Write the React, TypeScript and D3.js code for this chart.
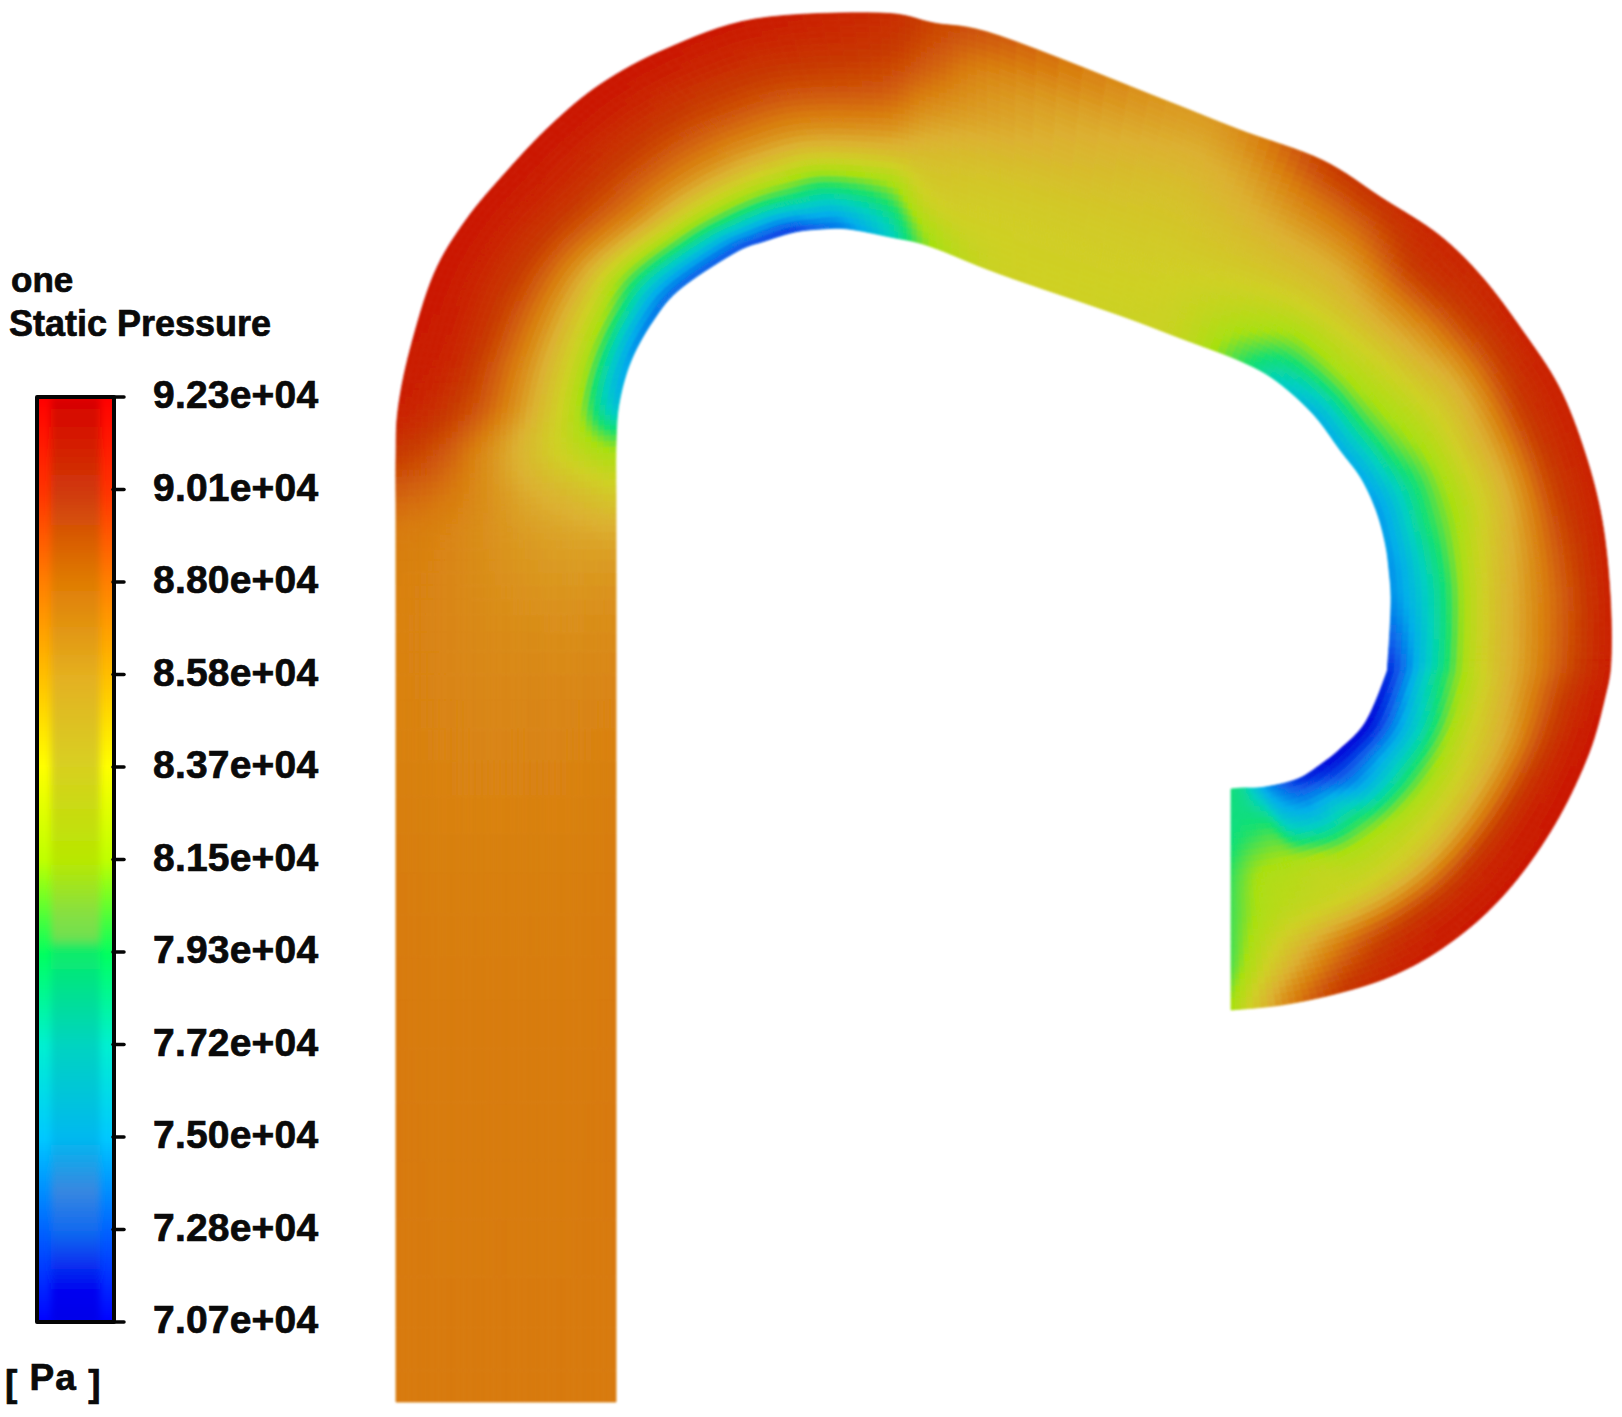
import React from "react"
import * as d3 from "d3"

// legend
const tickLabels = ["9.23e+04", "9.01e+04", "8.80e+04", "8.58e+04", "8.37e+04", "8.15e+04", "7.93e+04", "7.72e+04", "7.50e+04", "7.28e+04", "7.07e+04"]
const tickValues = [9.23, 9.01, 8.8, 8.58, 8.37, 8.15, 7.93, 7.72, 7.5, 7.28, 7.07]
const fieldColors = ["#cc0800", "#c83a04", "#d87a0c", "#dcb030", "#cfd024", "#a8e010", "#14e070", "#00d0c0", "#00aeea", "#0a60ea", "#0000d8"]
const barEdge = ["#ff0000", "#ff3400", "#ff7f00", "#ffbf00", "#ffff00", "#bfff00", "#00ff60", "#00f0d0", "#00c8ff", "#0060ff", "#0000ff"]
// middle of the colour bar has a few washed-out patches, so it gets its own stops
const barCentreValues = [9.23, 9.01, 8.8, 8.58, 8.37, 8.15, 8.03, 7.97, 7.94, 7.72, 7.5, 7.38, 7.28, 7.14, 7.07]
const barCentre = ["#d80000", "#d03a08", "#e07c04", "#e4b020", "#d8d020", "#b8e800", "#88e040", "#70e050", "#08ec68", "#00d4c0", "#00b8f0", "#3888e0", "#1068f0", "#0000f0", "#0000e8"]

// duct walls in model units, origin at the inlet's outer corner, y up
const outerWall = [
  [0, 0], [0, 402], [0, 702], [0, 842], [0, 892], [0, 945], [2, 992], [14, 1052], [38, 1128], [70, 1182],
  [111, 1231], [155, 1277], [205, 1318], [270, 1353], [359, 1383], [484, 1389], [538, 1379], [604, 1366], [771, 1301], [844, 1272],
  [926, 1242], [986, 1204], [1043, 1167], [1086, 1125], [1126, 1072], [1163, 1015], [1189, 949], [1206, 882], [1214, 809], [1215, 742], [1209, 705],
  [1193, 649], [1163, 585], [1126, 529], [1086, 485], [1039, 449], [993, 425], [943, 409], [886, 397], [835, 392],
]
const innerWall = [
  [220, 0], [220, 402], [220, 702], [220, 842], [220, 902], [220, 956], [223, 998], [235, 1041], [257, 1081], [284, 1113],
  [340, 1150], [369, 1161], [399, 1170], [426, 1173], [452, 1173], [494, 1165], [533, 1156], [604, 1128], [723, 1087], [784, 1064],
  [842, 1042], [879, 1022], [917, 988], [944, 952], [965, 924], [980, 892], [989, 860], [993, 832], [995, 799], [992, 742], [989, 725],
  [969, 679], [943, 652], [924, 637], [906, 625], [889, 619], [869, 615], [859, 614], [847, 614], [835, 613],
]
// pressure (x1e4 Pa) at six points from outer wall to inner wall, one row per wall station
const pressure = [
  [8.8, 8.8, 8.8, 8.8, 8.8, 8.8],
  [8.8, 8.79, 8.79, 8.79, 8.79, 8.8],
  [8.77, 8.76, 8.75, 8.75, 8.75, 8.76],
  [8.78, 8.76, 8.72, 8.68, 8.66, 8.66],
  [8.84, 8.8, 8.72, 8.62, 8.54, 8.45],
  [9.0, 8.92, 8.74, 8.52, 8.3, 8.1],
  [9.12, 9.04, 8.88, 8.6, 8.22, 7.6],
  [9.15, 9.1, 8.92, 8.62, 8.18, 7.45],
  [9.18, 9.1, 8.95, 8.62, 8.1, 7.35],
  [9.18, 9.1, 8.95, 8.6, 7.98, 7.3],
  [9.17, 9.1, 8.95, 8.65, 8.0, 7.25],
  [9.18, 9.09, 8.94, 8.63, 8.0, 7.22],
  [9.18, 9.08, 8.92, 8.62, 8.0, 7.2],
  [9.17, 9.06, 8.9, 8.58, 7.97, 7.3],
  [9.15, 9.05, 8.88, 8.56, 7.93, 7.4],
  [9.08, 9.0, 8.85, 8.55, 8.05, 7.7],
  [8.98, 8.88, 8.7, 8.5, 8.35, 8.12],
  [8.9, 8.72, 8.6, 8.45, 8.38, 8.35],
  [8.68, 8.58, 8.48, 8.42, 8.38, 8.35],
  [8.72, 8.6, 8.5, 8.42, 8.34, 8.3],
  [8.98, 8.78, 8.58, 8.42, 8.22, 8.0],
  [9.05, 8.85, 8.6, 8.4, 8.1, 7.75],
  [9.1, 9.0, 8.7, 8.4, 8.1, 7.55],
  [9.1, 8.98, 8.65, 8.35, 8.05, 7.52],
  [9.12, 8.95, 8.58, 8.3, 8.0, 7.5],
  [9.12, 9.0, 8.62, 8.28, 7.9, 7.45],
  [9.12, 8.97, 8.58, 8.25, 7.9, 7.45],
  [9.12, 8.95, 8.62, 8.3, 7.85, 7.42],
  [9.12, 8.92, 8.65, 8.33, 7.8, 7.4],
  [9.13, 8.94, 8.65, 8.32, 7.75, 7.2],
  [9.15, 8.98, 8.65, 8.28, 7.78, 7.15],
  [9.17, 9.0, 8.58, 8.22, 7.62, 7.08],
  [9.17, 9.02, 8.52, 8.12, 7.55, 7.07],
  [9.16, 9.02, 8.48, 8.12, 7.5, 7.1],
  [9.16, 9.0, 8.45, 8.15, 7.65, 7.15],
  [9.15, 8.98, 8.42, 8.15, 7.6, 7.25],
  [9.1, 8.9, 8.38, 8.22, 7.7, 7.45],
  [9.0, 8.72, 8.33, 8.2, 7.95, 7.62],
  [8.7, 8.42, 8.22, 8.15, 7.95, 7.82],
  [8.15, 8.02, 8.0, 7.98, 7.9, 7.9],
]

// Catmull-Rom through a list of numbers
function spline(arr: number[], u: number) {
  const n = arr.length - 1
  const i = Math.min(Math.floor(u), n - 1)
  const t = u - i
  const p0 = arr[Math.max(i - 1, 0)], p1 = arr[i], p2 = arr[i + 1], p3 = arr[Math.min(i + 2, n)]
  return 0.5 * (2 * p1 + (p2 - p0) * t + (2 * p0 - 5 * p1 + 4 * p2 - p3) * t * t + (3 * p1 - p0 - 3 * p2 + p3) * t * t * t)
}

const xScale = d3.scaleLinear().domain([0, 1213]).range([396, 1609])
const yScale = d3.scaleLinear().domain([0, 1391]).range([1402, 11])
const fieldColor = d3.scaleLinear<string>().domain(tickValues).range(fieldColors).clamp(true)
const centreColor = d3.scaleLinear<string>().domain(barCentreValues).range(barCentre).clamp(true)
const edgeColor = d3.scaleLinear<string>().domain(tickValues).range(barEdge).clamp(true)

const barTop = 397, barBottom = 1322, barLeft = 38, barRight = 113
const tickY = d3.scalePoint<string>().domain(tickLabels).range([barTop, barBottom])
const barValue = d3.scaleLinear().domain([barTop, barBottom]).range([9.23, 7.07])

function buildCells() {
  const outerX = outerWall.map(d => d[0]), outerY = outerWall.map(d => d[1])
  const innerX = innerWall.map(d => d[0]), innerY = innerWall.map(d => d[1])
  const cols = d3.transpose(pressure) as number[][]
  const steps = 8, rows = 36
  const line = d3.line().curve(d3.curveLinearClosed)
  const point = (u: number, t: number): [number, number] => {
    const ox = spline(outerX, u), oy = spline(outerY, u)
    const ix = spline(innerX, u), iy = spline(innerY, u)
    return [xScale(ox + (ix - ox) * t), yScale(oy + (iy - oy) * t)]
  }
  const value = (u: number, t: number) => {
    const along = cols.map(c => spline(c, u))
    return spline(along, t * (along.length - 1))
  }
  const cells: { d: string; fill: string }[] = []
  const total = (pressure.length - 1) * steps
  for (let a = 0; a < total; a++) {
    const u0 = a / steps, u1 = (a + 1) / steps
    for (let b = 0; b < rows; b++) {
      const t0 = b / rows, t1 = (b + 1) / rows
      cells.push({
        d: line([point(u0, t0), point(u1, t0), point(u1, t1), point(u0, t1)]) as string,
        fill: fieldColor(value((u0 + u1) / 2, (t0 + t1) / 2)),
      })
    }
  }
  return cells
}

export default function App() {
  const cells = React.useMemo(buildCells, [])
  const barRows = d3.range(barTop, barBottom, 2)
  const font = "'Liberation Sans', Arial, sans-serif"
  return (
    <svg width={1622} height={1417} style={{ position: "absolute", left: 0, top: 0, display: "block", background: "#fff" }}>
      <defs>
        <filter id="soft" x="-20%" y="-5%" width="140%" height="110%">
          <feGaussianBlur stdDeviation="3.5" />
        </filter>
        <filter id="field" x="-2%" y="-2%" width="104%" height="104%">
          <feGaussianBlur stdDeviation="1.3" />
        </filter>
        <clipPath id="barClip">
          <rect x={barLeft} y={barTop} width={barRight - barLeft} height={barBottom - barTop} />
        </clipPath>
      </defs>

      {/* contour field */}
      <g filter="url(#field)">
        {cells.map((c, i) => (
          <path key={i} d={c.d} fill={c.fill} stroke={c.fill} strokeWidth={0.8} />
        ))}
      </g>

      {/* colour bar: saturated at the rim, muted down the middle */}
      <g clipPath="url(#barClip)">
        {barRows.map(y => (
          <rect key={y} x={barLeft} y={y} width={barRight - barLeft} height={2.5} fill={edgeColor(barValue(y))} />
        ))}
        <g filter="url(#soft)">
          {barRows.map(y => (
            <rect key={y} x={barLeft + 13} y={y} width={barRight - barLeft - 26} height={2.5} fill={centreColor(barValue(y))} />
          ))}
        </g>
      </g>
      <path
        d={`M${barLeft - 1},${barBottom} V${barTop} H${barRight + 1} V${barBottom} Z`}
        fill="none" stroke="#050505" strokeWidth={4} strokeLinejoin="round"
      />
      {tickLabels.map(l => (
        <g key={l}>
          <line x1={barRight} x2={124} y1={tickY(l)} y2={tickY(l)} stroke="#050505" strokeWidth={3.5} strokeLinecap="round" />
          <text x={153} y={tickY(l)! + 11} fontFamily={font} fontWeight="bold" fontSize={39} letterSpacing={0.2} fill="#0a0a0a" stroke="#0a0a0a" strokeWidth={0.7}>
            {l}
          </text>
        </g>
      ))}

      <g fontFamily={font} fontWeight="bold" fill="#0a0a0a" stroke="#0a0a0a" strokeWidth={0.7}>
        <text x={11} y={292} fontSize={35}>one</text>
        <text x={9} y={336} fontSize={36}>Static Pressure</text>
        <text x={5} y={1396} fontSize={37} letterSpacing={1}>
          [ <tspan dy={-6}>Pa</tspan> <tspan dy={6}>]</tspan>
        </text>
      </g>
    </svg>
  )
}
